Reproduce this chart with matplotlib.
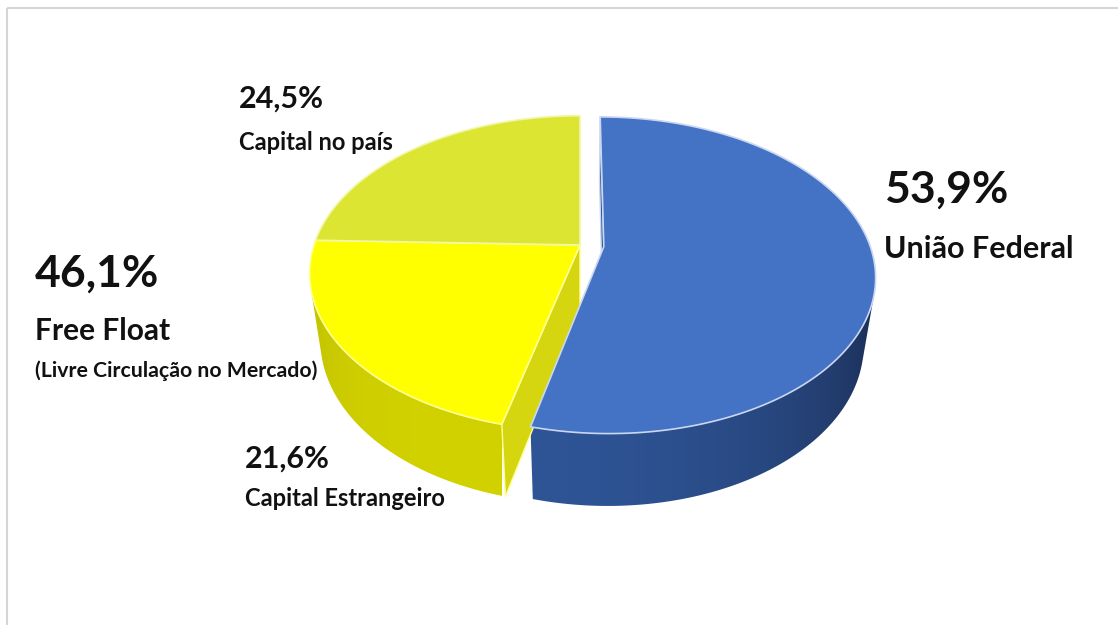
import numpy as np
import matplotlib
matplotlib.use("Agg")
import matplotlib.pyplot as plt
from matplotlib.patches import Polygon, Rectangle
from matplotlib.colors import to_rgb

# composição do capital (% do total)
nomes = ["União Federal", "Capital Estrangeiro", "Capital no país"]
valores = [53.9, 21.6, 24.5]

cor_topo = ["#4472C4", "#FFFF00", "#DCE632"]
cor_borda = ["#C9D7F0", "#FFFF9A", "#F2F7A8"]
lado_escuro = ["#1B2F57", "#A8A800", "#A6AE1E"]
lado_claro = ["#2F5597", "#D2D200", "#C9D22B"]
cor_corte = ["#2E5394", "#D6D610", "#C9D22B"]
destaque = [0.09, 0.0, 0.0]

W, H = 1118, 625
CX, CY = 580, 245      # centro da pizza em pixels
ESC = 266              # pixels por raio
ELEV = np.radians(35)
DIST = 4.55            # distância da câmera (em raios)
ALT = 0.32             # espessura do disco

sE, cE = np.sin(ELEV), np.cos(ELEV)
cam = np.array([0.0, DIST * sE, DIST * cE])
luz = np.array([-0.35, 0.0, 0.94])
luz /= np.linalg.norm(luz)


def proj(x, y, z):
    prof = z * cE + y * sE
    cima = -z * sE + y * cE
    f = DIST / (DIST - prof)
    return CX + ESC * x * f, CY - ESC * cima * f


def fmt(v):
    return f"{v:.1f}".replace(".", ",") + "%"


fig = plt.figure(figsize=(W / 100, H / 100), dpi=100)
ax = fig.add_axes([0, 0, 1, 1])
ax.axis("off")

n_fatias = len(valores)
ang = np.concatenate([[0], np.cumsum(valores)]) / 100 * 2 * np.pi
for i in range(n_fatias):
    a0, a1 = ang[i], ang[i + 1]
    am = (a0 + a1) / 2
    ox, oz = destaque[i] * np.sin(am), -destaque[i] * np.cos(am)
    t = np.linspace(a0, a1, max(int(np.degrees(a1 - a0)) * 3, 4))
    xs, zs = ox + np.sin(t), oz - np.cos(t)

    # topo
    X, Y = proj(np.r_[ox, xs], 0.0, np.r_[oz, zs])
    ax.add_patch(Polygon(np.c_[X, Y], closed=True, fc=cor_topo[i], ec=cor_borda[i],
                         lw=1.2, joinstyle="round", zorder=3))

    # lateral curva: só a parte voltada para a câmera, com degradê
    nx, nz = np.sin(t), -np.cos(t)
    vis = nx * (cam[0] - xs) + nz * (cam[2] - zs) > 0
    if vis.sum() >= 2:
        xv, zv = xs[vis], zs[vis]
        Xt, Yt = proj(xv, 0.0, zv)
        Xb, Yb = proj(xv, -ALT, zv)
        lado = Polygon(np.r_[np.c_[Xt, Yt], np.c_[Xb, Yb][::-1]], closed=True,
                       fc="none", ec="none", zorder=1)
        ax.add_patch(lado)
        esc, cla = np.array(to_rgb(lado_escuro[i])), np.array(to_rgb(lado_claro[i]))
        k = np.clip(nx[vis] * luz[0] + nz[vis] * luz[2], 0, 1)
        cores = esc[None, :] + (cla - esc)[None, :] * k[:, None]
        ordem = np.argsort(Xt)
        gx = np.linspace(Xt.min(), Xt.max(), 400)
        img = np.stack([np.interp(gx, Xt[ordem], cores[ordem, c]) for c in range(3)], axis=-1)
        im = ax.imshow(img[None, :, :], extent=[gx[0], gx[-1], Yb.max() + 2, Yt.min() - 2],
                       aspect="auto", interpolation="bilinear", zorder=1)
        im.set_clip_path(lado)

    # faces de corte (só entre fatias separadas)
    for a, sg, viz in ((a0, -1, (i - 1) % n_fatias), (a1, 1, (i + 1) % n_fatias)):
        if destaque[i] == 0 and destaque[viz] == 0:
            continue
        n = sg * np.array([np.cos(a), 0.0, np.sin(a)])
        p = np.array([ox + 0.5 * np.sin(a), -ALT / 2, oz - 0.5 * np.cos(a)])
        if n @ (cam - p) <= 0:
            continue
        ex, ez = ox + np.sin(a), oz - np.cos(a)
        X, Y = proj(np.array([ox, ex, ex, ox]),
                    np.array([0, 0, -ALT, -ALT]),
                    np.array([oz, ez, ez, oz]))
        ax.add_patch(Polygon(np.c_[X, Y], closed=True, fc=cor_corte[i], ec=cor_borda[i],
                             lw=1.0, joinstyle="round", zorder=2))

ax.add_patch(Rectangle((7, 8), W, H, fill=False, ec="#d6d6d6", lw=1.5, zorder=5))

fonte = ["Lato", "Liberation Sans", "DejaVu Sans"]
txt = dict(family=fonte, weight="bold", color="#111111", va="baseline", ha="left", zorder=6)

ax.text(884, 203, fmt(valores[0]), fontsize=32, **txt)
ax.text(884, 258, nomes[0], fontsize=22, **txt)

ax.text(35, 287, fmt(valores[1] + valores[2]), fontsize=32, **txt)
ax.text(35, 340, "Free Float", fontsize=21.5, **txt)
ax.text(35, 377, "(Livre Circulação no Mercado)", fontsize=15.3, **txt)

ax.text(239, 108, fmt(valores[2]), fontsize=22, **txt)
ax.text(239, 150, nomes[2], fontsize=17, **txt)

ax.text(245, 468, fmt(valores[1]), fontsize=22, **txt)
ax.text(245, 506, nomes[1], fontsize=17, **txt)

ax.set_xlim(0, W)
ax.set_ylim(H, 0)
fig.savefig("out.png", dpi=100)
